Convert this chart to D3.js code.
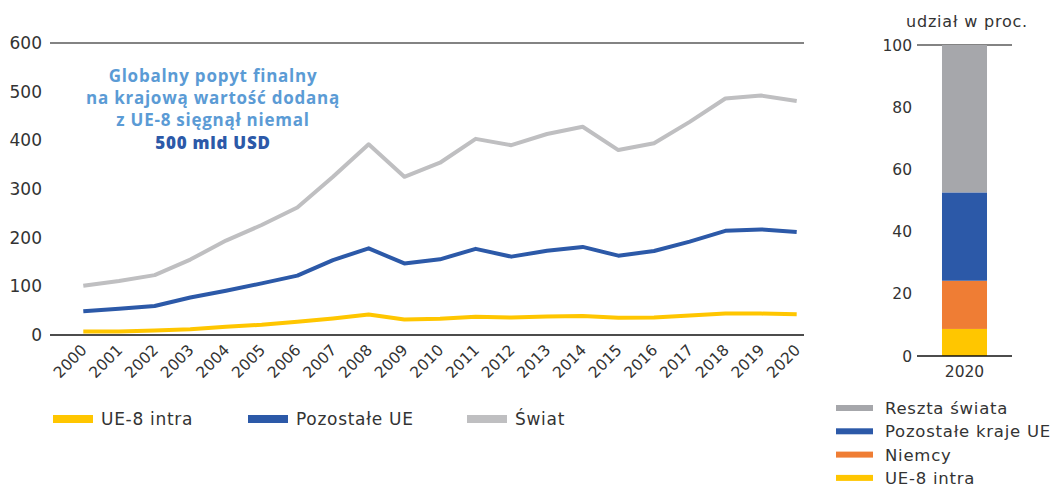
<!DOCTYPE html>
<html>
<head>
<meta charset="utf-8">
<script src="https://cdn.jsdelivr.net/npm/d3@7"></script>
<style>
  html, body { margin: 0; padding: 0; background: #fff; }
  svg { display: block; font-family: "DejaVu Sans", sans-serif; }
</style>
</head>
<body>
<svg id="chart" width="1053" height="489"></svg>
<script>
// Years on the horizontal axis
const years = ["2000","2001","2002","2003","2004","2005","2006","2007","2008","2009","2010",
               "2011","2012","2013","2014","2015","2016","2017","2018","2019","2020"];

// Final demand for domestic value added, bln USD
const ue8Intra   = [7, 7, 9.5, 12, 17, 21, 27, 34, 42, 32, 33.5, 37.5, 36, 38, 39, 35.5, 36, 40, 44, 44, 42.5];
const pozostaleUE = [49, 54, 59.5, 77, 91, 106, 122, 154, 178, 147, 155.5, 177, 161, 173, 181, 163, 172.5, 192, 214, 217, 211.5];
const swiat      = [101, 111, 123, 155, 194, 226, 262, 325, 392, 325, 354, 403, 390, 413, 428, 380, 394, 438, 486, 492, 481];

const yTicksLeft = [0, 100, 200, 300, 400, 500, 600];

// Structure in 2020, percent
const barCategory = ["2020"];
const shareNames  = ["UE-8 intra", "Niemcy", "Pozostałe kraje UE", "Reszta świata"];
const shareValues = [8.7, 15.5, 28.4, 47.4];
const yTicksRight = [0, 20, 40, 60, 80, 100];

const lineNames = ["UE-8 intra", "Pozostałe UE", "Świat"];

const C = {
  yellow: "#FFC600",
  blue: "#2C59A8",
  lineGray: "#BFBFC1",
  barGray: "#A6A7AB",
  orange: "#EF7D34",
  text: "#333333",
  noteLight: "#5B9BD5",
  noteDark: "#2C59A8"
};

const svg = d3.select("#chart");

/* ---------- left: lines ---------- */
const x = d3.scalePoint().domain(years).range([83.3, 796.7]);
const y = d3.scaleLinear().domain([0, 600]).range([335, 43]);
const left = svg.append("g");

// top reference line at 600
left.append("line")
  .attr("x1", 50).attr("x2", 804)
  .attr("y1", y(600)).attr("y2", y(600))
  .attr("stroke", "#5a5a5a").attr("stroke-width", 1.3);

// y tick labels
left.selectAll("text.ytick").data(yTicksLeft).join("text")
  .attr("class", "ytick")
  .attr("x", 42).attr("y", d => y(d))
  .attr("dy", "0.36em")
  .attr("text-anchor", "end")
  .attr("font-size", 17)
  .attr("fill", C.text)
  .text(d => d);

// annotation
const note = left.append("text")
  .attr("text-anchor", "middle")
  .attr("font-family", "'Open Sans', sans-serif")
  .attr("font-weight", 700)
  .attr("font-size", 17)
  .attr("letter-spacing", 0.75)
  .attr("fill", C.noteLight);
const noteLines = ["Globalny popyt finalny", "na krajową wartość dodaną", "z UE-8 sięgnął niemal"];
noteLines.forEach((t, i) => {
  note.append("tspan").attr("x", 213).attr("y", 82 + i * 22.2).text(t);
});
note.append("tspan").attr("x", 213).attr("y", 82 + 3 * 22.2)
  .attr("fill", C.noteDark).attr("font-weight", 800).text("500 mld USD");

// lines
const lineGen = d3.line().x((d, i) => x(years[i])).y(d => y(d));
const series = [
  { values: swiat, color: C.lineGray },
  { values: pozostaleUE, color: C.blue },
  { values: ue8Intra, color: C.yellow }
];
left.selectAll("path.series").data(series).join("path")
  .attr("class", "series")
  .attr("d", d => lineGen(d.values))
  .attr("fill", "none")
  .attr("stroke", d => d.color)
  .attr("stroke-width", 4)
  .attr("stroke-linejoin", "round");

// baseline
left.append("line")
  .attr("x1", 50).attr("x2", 804)
  .attr("y1", y(0)).attr("y2", y(0))
  .attr("stroke", "#111").attr("stroke-width", 1.6);

// x tick labels
left.selectAll("text.xtick").data(years).join("text")
  .attr("class", "xtick")
  .attr("transform", d => `translate(${x(d) + 4.5},${351}) rotate(-45)`)
  .attr("text-anchor", "end")
  .attr("font-size", 15.5)
  .attr("fill", C.text)
  .text(d => d);

// legend
const legLeftX = [53, 248, 467];
const legLeftColors = [C.yellow, C.blue, C.lineGray];
const legL = left.selectAll("g.legl").data(lineNames).join("g")
  .attr("class", "legl")
  .attr("transform", (d, i) => `translate(${legLeftX[i]},415)`);
legL.append("rect").attr("width", 40).attr("height", 8)
  .attr("fill", (d, i) => legLeftColors[i]);
legL.append("text")
  .attr("x", 48).attr("y", 4).attr("dy", "0.36em")
  .attr("font-size", 17).attr("letter-spacing", 0.7)
  .attr("fill", C.text)
  .text(d => d);

/* ---------- right: stacked share bar ---------- */
const xb = d3.scaleBand().domain(barCategory).range([917, 1012]).padding(0.357);
const yb = d3.scaleLinear().domain([0, 100]).range([356, 45]);
const right = svg.append("g");

right.append("text")
  .attr("x", 967).attr("y", 27)
  .attr("text-anchor", "middle")
  .attr("font-size", 16).attr("letter-spacing", 0.8)
  .attr("fill", C.text)
  .text("udział w proc.");

right.append("line")
  .attr("x1", 917).attr("x2", 1012)
  .attr("y1", yb(100)).attr("y2", yb(100))
  .attr("stroke", "#5a5a5a").attr("stroke-width", 1.3);

right.selectAll("text.ytick").data(yTicksRight).join("text")
  .attr("class", "ytick")
  .attr("x", 912).attr("y", d => yb(d))
  .attr("dy", "0.36em")
  .attr("text-anchor", "end")
  .attr("font-size", 15.5)
  .attr("fill", C.text)
  .text(d => d);

const shareColors = [C.yellow, C.orange, C.blue, C.barGray];
const row = {};
shareNames.forEach((n, i) => { row[n] = shareValues[i]; });
const stacked = d3.stack().keys(shareNames)([row]);
right.selectAll("rect.seg").data(stacked).join("rect")
  .attr("class", "seg")
  .attr("x", xb("2020"))
  .attr("width", xb.bandwidth())
  .attr("y", d => yb(d[0][1]))
  .attr("height", d => yb(d[0][0]) - yb(d[0][1]))
  .attr("fill", (d, i) => shareColors[i]);

right.append("line")
  .attr("x1", 917).attr("x2", 1012)
  .attr("y1", yb(0)).attr("y2", yb(0))
  .attr("stroke", "#111").attr("stroke-width", 1.6);

right.append("text")
  .attr("x", xb("2020") + xb.bandwidth() / 2).attr("y", 377)
  .attr("text-anchor", "middle")
  .attr("font-size", 15.5)
  .attr("fill", C.text)
  .text(barCategory[0]);

// legend, top to bottom in reverse stack order
const legendOrder = shareNames.map((n, i) => ({ name: n, color: shareColors[i] })).reverse();
const legR = right.selectAll("g.legr").data(legendOrder).join("g")
  .attr("class", "legr")
  .attr("transform", (d, i) => `translate(836,${405 + i * 23.3})`);
legR.append("rect").attr("width", 37).attr("height", 6).attr("fill", d => d.color);
legR.append("text")
  .attr("x", 49).attr("y", 3).attr("dy", "0.36em")
  .attr("font-size", 16.5).attr("letter-spacing", 0.75)
  .attr("fill", C.text)
  .text(d => d.name);
</script>
</body>
</html>
